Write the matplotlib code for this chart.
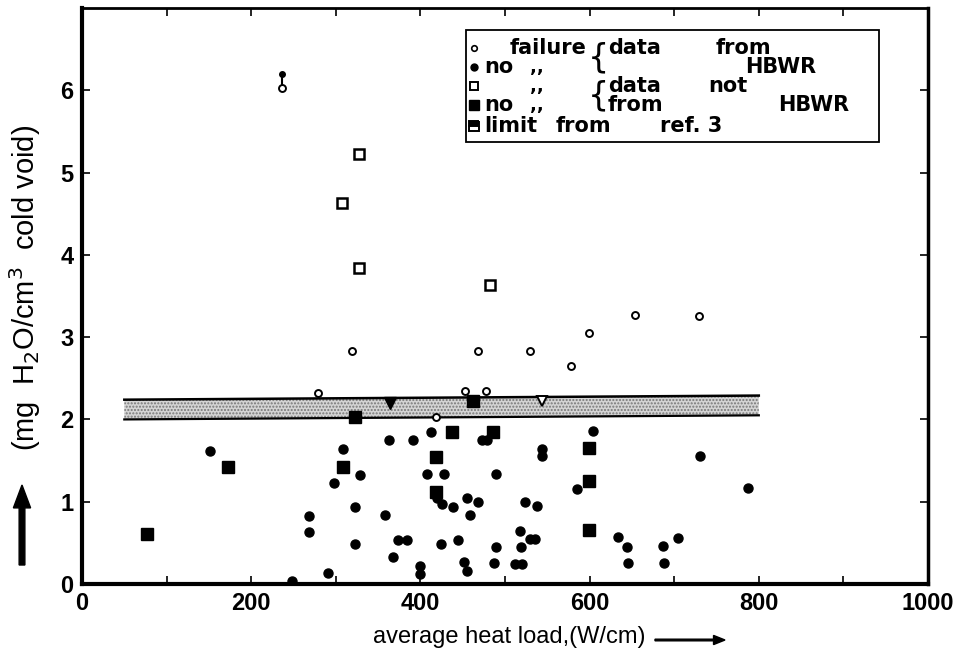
import numpy as np
import matplotlib
matplotlib.use('Agg')
import matplotlib.pyplot as plt
from matplotlib.ticker import MultipleLocator
from matplotlib.patches import FancyArrow, Rectangle
from matplotlib.lines import Line2D

# failure, data from HBWR (small open circles)
fail_hbwr_x = [279, 319, 453, 477, 468, 530, 578, 599, 654, 729, 418]
fail_hbwr_y = [2.32, 2.83, 2.35, 2.35, 2.83, 2.83, 2.65, 3.05, 3.27, 3.26, 2.03]

# the one point with an upper bar
top_x = [236]
top_y = [6.03]
top_y_hi = [6.2]

# no failure, data from HBWR (filled circles)
nofail_hbwr_x = [151, 309, 329, 298, 323, 268, 268, 323, 363, 391, 413, 408, 428,
                 420, 425, 438, 358, 455, 468, 459, 374, 384, 424, 444, 368, 451,
                 455, 291, 248, 399, 399, 473, 479, 544, 544, 604, 731, 489, 585,
                 787, 524, 538, 518, 530, 535, 519, 489, 487, 512, 520, 634, 644,
                 645, 687, 704, 688]
nofail_hbwr_y = [1.62, 1.64, 1.33, 1.23, 0.94, 0.83, 0.63, 0.49, 1.75, 1.75, 1.85, 1.34, 1.34,
                 1.05, 0.97, 0.94, 0.84, 1.04, 1.0, 0.84, 0.53, 0.53, 0.49, 0.53, 0.33, 0.27,
                 0.16, 0.13, 0.04, 0.22, 0.12, 1.75, 1.75, 1.64, 1.56, 1.86, 1.56, 1.34, 1.15,
                 1.17, 1.0, 0.95, 0.64, 0.55, 0.55, 0.45, 0.45, 0.25, 0.24, 0.24, 0.57, 0.45,
                 0.26, 0.46, 0.56, 0.26]

# failure, data not from HBWR (open squares)
fail_other_x = [327, 307, 327, 482]
fail_other_y = [5.22, 4.63, 3.84, 3.63]

# no failure, data not from HBWR (filled squares)
nofail_other_x = [77, 172, 309, 323, 418, 437, 486, 599, 599, 599, 462, 418]
nofail_other_y = [0.61, 1.42, 1.42, 2.03, 1.54, 1.85, 1.85, 1.65, 1.25, 0.66, 2.23, 1.12]

# triangles sitting on the band
tri_fill_x, tri_fill_y = [364], [2.2]
tri_open_x, tri_open_y = [544], [2.22]

# limit band from ref. 3
band_x = [50, 800]
band_lo = [2.0, 2.05]
band_hi = [2.24, 2.29]

xticks = [0, 200, 400, 600, 800, 1000]
yticks = [0, 1, 2, 3, 4, 5, 6]

plt.rcParams['font.family'] = ['Liberation Sans Narrow', 'Liberation Sans', 'DejaVu Sans']

W, H = 955, 654
fig = plt.figure(figsize=(W / 100, H / 100), dpi=100)
ax = fig.add_axes([82 / W, 1 - 584 / H, 846 / W, 576 / H])

# band
ax.fill_between(band_x, band_lo, band_hi, facecolor='#d4d4d4', hatch='.....',
                edgecolor='#777777', linewidth=0, zorder=1)
ax.plot(band_x, band_lo, color='black', lw=1.6, zorder=2)
ax.plot(band_x, band_hi, color='black', lw=1.8, zorder=2)

# points
ax.plot(nofail_hbwr_x, nofail_hbwr_y, 'o', color='black', ms=6.5, zorder=3)
ax.plot(nofail_other_x, nofail_other_y, 's', color='black', ms=8, zorder=3)
ax.plot(fail_hbwr_x, fail_hbwr_y, 'o', mfc='white', mec='black', mew=1.4, ms=5, zorder=4)
ax.plot(fail_other_x, fail_other_y, 's', mfc='white', mec='black', mew=1.8, ms=7.5, zorder=4)
ax.plot(tri_fill_x, tri_fill_y, 'v', color='black', ms=8, zorder=4)
ax.plot(tri_open_x, tri_open_y, 'v', mfc='white', mec='black', mew=1.4, ms=7, zorder=4)
ax.vlines(top_x, top_y, top_y_hi, color='black', lw=1.5, zorder=3)
ax.plot(top_x, top_y_hi, 'o', color='black', ms=4, zorder=4)
ax.plot(top_x, top_y, 'o', mfc='white', mec='black', mew=1.4, ms=5, zorder=4)

ax.set_xlim(0, 1000)
ax.set_ylim(0, 7)
ax.set_xticks(xticks)
ax.set_yticks(yticks)
ax.xaxis.set_minor_locator(MultipleLocator(100))
ax.tick_params(which='both', direction='in', top=True, right=True, length=6, width=1.2)
ax.tick_params(which='major', labelsize=17, pad=6)
for lab in ax.get_xticklabels() + ax.get_yticklabels():
    lab.set_fontweight('bold')
for side, lw in [('left', 3), ('bottom', 3), ('top', 2), ('right', 2.5)]:
    ax.spines[side].set_linewidth(lw)

# axis labels with arrows
fig.text(645 / W, 1 - 637 / H, 'average heat load,(W/cm)', fontsize=17,
         ha='right', va='center')
fig.patches.append(FancyArrow(
    655 / W, 1 - 640 / H, 70 / W, 0, width=0.0025, head_width=0.014,
    head_length=0.012, length_includes_head=True, color='black',
    transform=fig.transFigure))
fig.text(25 / W, 1 - 288 / H, '(mg  H$_2$O/cm$^3$  cold void)', fontsize=21,
         rotation=90, ha='center', va='center', family='Liberation Sans')
fig.patches.append(FancyArrow(
    22 / W, 1 - 565 / H, 0, 80 / H, width=0.006, head_width=0.018,
    head_length=0.035, length_includes_head=True, color='black',
    transform=fig.transFigure))

# legend box drawn by hand
fig.patches.append(Rectangle((466 / W, 1 - 142 / H), 413 / W, 112 / H,
                             transform=fig.transFigure, fill=False,
                             edgecolor='black', lw=1.3, zorder=5))
rows = [48, 67, 86, 105, 126]
mk = dict(transform=fig.transFigure, zorder=6)
fig.lines.append(Line2D([474 / W], [1 - rows[0] / H], marker='o', ms=4,
                        mfc='white', mec='black', mew=1.2, **mk))
fig.lines.append(Line2D([474 / W], [1 - rows[1] / H], marker='o', ms=5,
                        color='black', **mk))
fig.lines.append(Line2D([474 / W], [1 - rows[2] / H], marker='s', ms=6,
                        mfc='white', mec='black', mew=1.4, **mk))
fig.lines.append(Line2D([474 / W], [1 - rows[3] / H], marker='s', ms=6.5,
                        color='black', **mk))
fig.lines.append(Line2D([474 / W], [1 - rows[4] / H], marker='s', ms=6.5,
                        mfc='black', mfcalt='white', fillstyle='top',
                        mec='black', mew=1.4, **mk))

tk = dict(fontsize=15, fontweight='bold', va='center', ha='left', family='DejaVu Sans')


def put(px, py, s, **kw):
    d = dict(tk)
    d.update(kw)
    fig.text(px / W, 1 - py / H, s, **d)


put(510, rows[0], 'failure')
put(484, rows[1], 'no')
put(484, rows[3], 'no')
for r in rows[1:4]:
    put(530, r, ',,', fontsize=13)
put(608, rows[0], 'data')
put(716, rows[0], 'from')
put(745, rows[1], 'HBWR')
put(608, rows[2], 'data')
put(708, rows[2], 'not')
put(608, rows[3], 'from')
put(778, rows[3], 'HBWR')
put(484, rows[4], 'limit')
put(556, rows[4], 'from')
put(660, rows[4], 'ref. 3')
put(598, (rows[0] + rows[1]) / 2, '{', fontsize=24, fontweight='normal', ha='center')
put(598, (rows[2] + rows[3]) / 2, '{', fontsize=24, fontweight='normal', ha='center')

fig.savefig('out.png', dpi=100)
